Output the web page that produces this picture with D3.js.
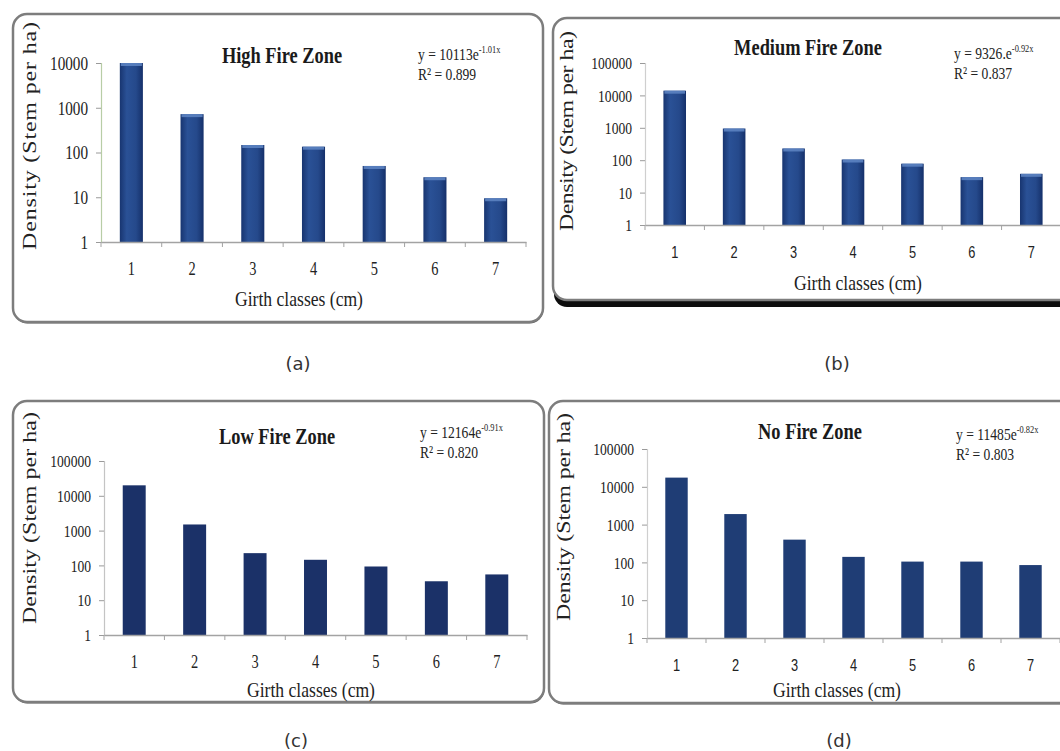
<!DOCTYPE html>
<html>
<head>
<meta charset="utf-8">
<script src="https://cdn.jsdelivr.net/npm/d3@7"></script>
<style>
  html, body { margin: 0; background: #fff; }
  svg { display: block; }
</style>
</head>
<body>
<svg id="fig" width="1060" height="751"></svg>
<script>
// Stem density per girth class for four fire-intensity zones (log scale)
const girthClasses = ["1", "2", "3", "4", "5", "6", "7"];
const highFire   = [10000, 720, 147, 135, 50, 28, 9.5];
const mediumFire = [14000, 950, 230, 105, 78, 30, 38];
const lowFire    = [20000, 1500, 225, 145, 93, 35, 55];
const noFire     = [17500, 1900, 400, 140, 105, 105, 85];

const yTicksHigh  = [1, 10, 100, 1000, 10000];
const yTicksOther = [1, 10, 100, 1000, 10000, 100000];

const zoneTitles   = ["High Fire Zone", "Medium Fire Zone", "Low Fire Zone", "No Fire Zone"];
const fitBase      = ["y = 10113e", "y = 9326.e", "y = 12164e", "y = 11485e"];
const fitExponent  = ["-1.01x", "-0.92x", "-0.91x", "-0.82x"];
const rSquared     = ["0.899", "0.837", "0.820", "0.803"];
const panelLetters = ["(a)", "(b)", "(c)", "(d)"];
const xTitle = "Girth classes (cm)";
const yTitle = "Density (Stem per ha)";

// Layout of each panel
const layout = [
  { values: highFire, ticks: yTicksHigh,
    box: { x: 13, y: 14, w: 530, h: 308 }, frame: "soft",
    plot: { x0: 101, x1: 526, y0: 242, y1: 63 },
    title: [282, 63], eq: [418, 60], xlabY: 269, xtitle: [299, 298],
    ytitle: [29, 136, 228], letter: [298, 370],
    tickFont: "serif", tickSize: 19, bars: "shaded", yAxisColor: "#b8cda6" },
  { values: mediumFire, ticks: yTicksOther,
    box: { x: 553, y: 18, w: 540, h: 282 }, frame: "dark",
    plot: { x0: 645, x1: 1061, y0: 225, y1: 63 },
    title: [808, 55], eq: [954, 59], xlabY: 252, xtitle: [858, 282],
    ytitle: [566, 131, 200], letter: [837, 370],
    tickFont: "sans", tickSize: 17, bars: "shaded", yAxisColor: "#cfcfcf" },
  { values: lowFire, ticks: yTicksOther,
    box: { x: 13, y: 401, w: 531, h: 301 }, frame: "soft",
    plot: { x0: 104, x1: 527, y0: 635, y1: 461 },
    title: [277, 444], eq: [420, 438], xlabY: 662, xtitle: [311, 689],
    ytitle: [29, 518, 212], letter: [296, 747],
    tickFont: "serif", tickSize: 17, bars: "#1b3168", yAxisColor: "#c4c4c4" },
  { values: noFire, ticks: yTicksOther,
    box: { x: 549, y: 401, w: 540, h: 302 }, frame: "soft",
    plot: { x0: 647, x1: 1060, y0: 638, y1: 449 },
    title: [810, 439], eq: [956, 440], xlabY: 665, xtitle: [837, 689],
    ytitle: [563, 517, 208], letter: [839, 747],
    tickFont: "sans", tickSize: 17, bars: "#1f3d75", yAxisColor: "#cfcfcf" }
];

const SX = 0.8;                       // condensed glyph width
const serif = "'Liberation Serif','Times New Roman',serif";
const sans  = "'Liberation Sans',Arial,sans-serif";
const ink = "#222";

const svg = d3.select("#fig");
const defs = svg.append("defs");
const grad = defs.append("linearGradient").attr("id", "barShade")
  .attr("x1", 0).attr("x2", 1).attr("y1", 0).attr("y2", 0);
[[0, "#183570"], [0.3, "#2a5196"], [0.7, "#25498b"], [1, "#15306a"]]
  .forEach(([o, c]) => grad.append("stop").attr("offset", o).attr("stop-color", c));

layout.forEach((p, i) => {
  const g = svg.append("g");
  const b = p.box;

  // chart frame
  if (p.frame === "dark") {
    g.append("rect").attr("x", b.x + 1).attr("y", b.y + 7).attr("width", b.w).attr("height", b.h)
      .attr("rx", 13).attr("fill", "#0d0d0d");
  } else {
    g.append("rect").attr("x", b.x + 0.5).attr("y", b.y + 1.5).attr("width", b.w).attr("height", b.h)
      .attr("rx", 14).attr("fill", "#5a5a5a");
  }
  g.append("rect").attr("x", b.x).attr("y", b.y).attr("width", b.w).attr("height", b.h)
    .attr("rx", 14).attr("fill", "#fff").attr("stroke", "#7d7d7d").attr("stroke-width", 2.5);

  // scales
  const x = d3.scaleBand().domain(girthClasses).range([p.plot.x0, p.plot.x1])
    .paddingInner(0.62).paddingOuter(0.31);
  const y = d3.scaleLog().domain([1, d3.max(p.ticks)]).range([p.plot.y0, p.plot.y1]);

  // bars
  g.append("g").selectAll("rect").data(p.values).join("rect")
    .attr("x", (d, j) => x(girthClasses[j]))
    .attr("y", d => y(d))
    .attr("width", x.bandwidth())
    .attr("height", d => y(1) - y(d))
    .attr("fill", p.bars === "shaded" ? "url(#barShade)" : p.bars);
  if (p.bars === "shaded") {
    g.append("g").selectAll("rect").data(p.values).join("rect")
      .attr("x", (d, j) => x(girthClasses[j]) + 1)
      .attr("y", d => y(d))
      .attr("width", x.bandwidth() - 2)
      .attr("height", 3)
      .attr("fill", "#5f86c4").attr("opacity", 0.85);
  }

  // y axis
  const yAxis = g.append("g").attr("transform", `translate(${p.plot.x0},0)`)
    .call(d3.axisLeft(y).tickValues(p.ticks).tickFormat(d3.format("d")).tickSize(5).tickPadding(0));
  yAxis.select(".domain").attr("stroke", p.yAxisColor).attr("stroke-width", 1.2);
  yAxis.selectAll(".tick line").attr("stroke", "#9a9a9a");
  yAxis.selectAll(".tick text")
    .attr("x", null).attr("dy", "0.34em")
    .attr("transform", `translate(-13,0) scale(${SX},1)`)
    .attr("text-anchor", "end")
    .attr("fill", ink).attr("font-family", serif).attr("font-size", p.tickSize);

  // x axis with tick marks between categories
  const xAxis = g.append("g").attr("transform", `translate(0,${p.plot.y0})`)
    .call(d3.axisBottom(x).tickSize(0).tickPadding(0));
  xAxis.select(".domain").attr("stroke", "#a3a3a3").attr("stroke-width", 1.3);
  xAxis.selectAll(".tick text")
    .attr("y", null).attr("dy", "0.35em")
    .attr("transform", `translate(0,${p.xlabY - p.plot.y0}) scale(${SX},1)`)
    .attr("fill", ink)
    .attr("font-family", p.tickFont === "serif" ? serif : sans)
    .attr("font-size", p.tickFont === "serif" ? 18 : 16);
  const edges = girthClasses.map(c => x(c) + x.bandwidth() / 2 - x.step() / 2)
    .concat([x(girthClasses[6]) + x.bandwidth() / 2 + x.step() / 2]);
  xAxis.selectAll("line.sep").data(edges).join("line").attr("class", "sep")
    .attr("x1", d => d).attr("x2", d => d).attr("y1", 0).attr("y2", 5)
    .attr("stroke", "#a3a3a3");

  // titles and fit annotation
  g.append("text")
    .attr("transform", `translate(${p.title[0]},${p.title[1]}) scale(${SX},1)`)
    .attr("text-anchor", "middle").attr("font-family", serif).attr("font-weight", "bold")
    .attr("font-size", 23).attr("fill", "#1a1a1a").text(zoneTitles[i]);

  const eq = g.append("text")
    .attr("transform", `translate(${p.eq[0]},${p.eq[1]}) scale(${SX},1)`)
    .attr("font-family", serif).attr("font-size", 17).attr("fill", ink);
  eq.append("tspan").text(fitBase[i]);
  eq.append("tspan").attr("dy", -7).attr("font-size", 10.5).text(fitExponent[i]);

  g.append("text")
    .attr("transform", `translate(${p.eq[0]},${p.eq[1] + 20}) scale(${SX},1)`)
    .attr("font-family", serif).attr("font-size", 17).attr("fill", ink)
    .text("R\u00B2 = " + rSquared[i]);

  g.append("text")
    .attr("transform", `translate(${p.xtitle[0]},${p.xtitle[1]}) scale(${SX},1)`)
    .attr("text-anchor", "middle").attr("dy", "0.35em")
    .attr("font-family", serif).attr("font-size", 22).attr("fill", ink).text(xTitle);

  g.append("text")
    .attr("transform", `translate(${p.ytitle[0]},${p.ytitle[1]}) scale(${SX},1) rotate(-90)`)
    .attr("text-anchor", "middle").attr("dy", "0.35em")
    .attr("textLength", p.ytitle[2]).attr("lengthAdjust", "spacing")
    .attr("font-family", serif).attr("font-size", 24).attr("fill", ink).text(yTitle);

  // panel letter
  svg.append("text").attr("x", p.letter[0]).attr("y", p.letter[1])
    .attr("text-anchor", "middle").attr("font-family", "'DejaVu Sans',Verdana,sans-serif")
    .attr("font-size", 18).attr("fill", "#333").text(panelLetters[i]);
});
</script>
</body>
</html>
